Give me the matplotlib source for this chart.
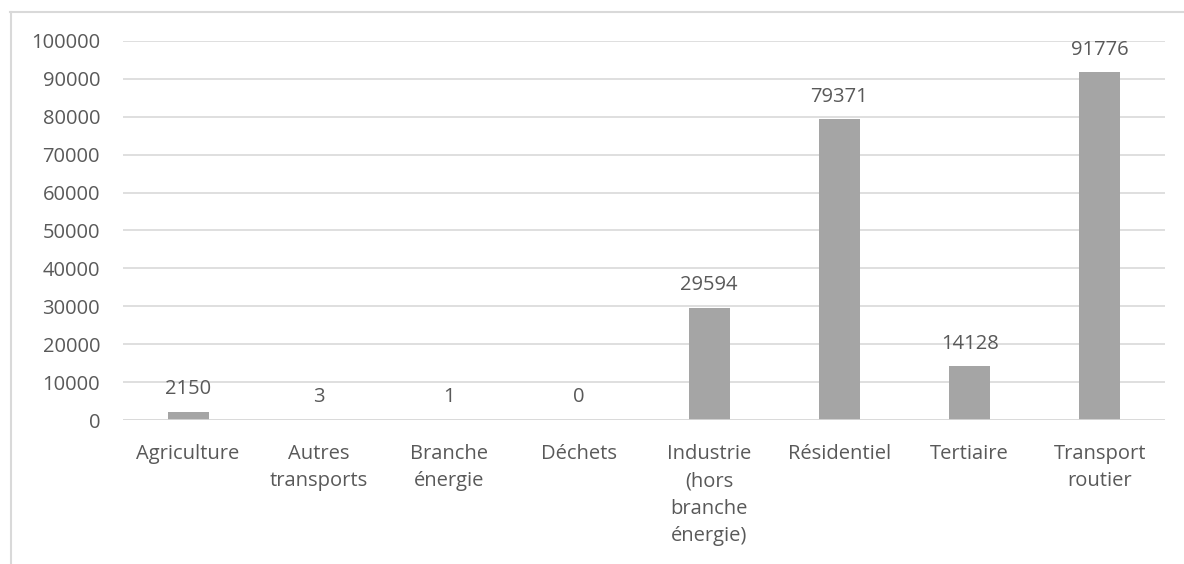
import matplotlib
matplotlib.use("Agg")
import matplotlib.pyplot as plt
from matplotlib.lines import Line2D

categories = ["Agriculture", "Autres\ntransports", "Branche\nénergie", "Déchets",
              "Industrie\n(hors\nbranche\nénergie)", "Résidentiel", "Tertiaire",
              "Transport\nroutier"]
values = [2150, 3, 1, 0, 29594, 79371, 14128, 91776]
y_ticks = list(range(0, 100001, 10000))

TEXT = "#595959"
GRID = "#d9d9d9"
BAR = "#a5a5a5"
FONT = "Open Sans"
FS = 14.5

W, H = 1184, 564
fig = plt.figure(figsize=(W / 100, H / 100), dpi=100)
ax = fig.add_axes([123 / W, 1 - 420 / H, (1165 - 123) / W, (420 - 41) / H])

x = range(len(categories))
ax.bar(x, values, width=0.315, color=BAR, zorder=3)

ax.set_xlim(-0.5, len(categories) - 0.5)
ax.set_ylim(0, 100000)
ax.set_yticks(y_ticks)
ax.set_yticklabels([str(t) for t in y_ticks], fontsize=FS, color=TEXT, family=FONT)
ax.set_xticks(list(x))
ax.set_xticklabels(categories, fontsize=FS, color=TEXT, family=FONT,
                   linespacing=1.5, va="top")
ax.tick_params(axis="y", length=0, pad=16.5)
ax.tick_params(axis="x", length=0, pad=17)

ax.grid(axis="y", color=GRID, linewidth=1.2, zorder=0)
for s in ax.spines.values():
    s.set_visible(False)
ax.axhline(0, color=GRID, linewidth=1.2, zorder=4)

for xi, v in zip(x, values):
    ax.annotate(str(v), (xi, v), xytext=(0, 9), textcoords="offset points",
                ha="center", va="bottom", fontsize=FS, color=TEXT, family=FONT)

# chart frame (top and left edges)
fig.add_artist(Line2D([10 / W, 1], [1 - 12 / H, 1 - 12 / H], color=GRID, linewidth=1.5,
                      transform=fig.transFigure))
fig.add_artist(Line2D([11 / W, 11 / W], [1 - 12 / H, 0], color=GRID, linewidth=1.5,
                      transform=fig.transFigure))

fig.savefig("out.png", dpi=100, facecolor="white")
